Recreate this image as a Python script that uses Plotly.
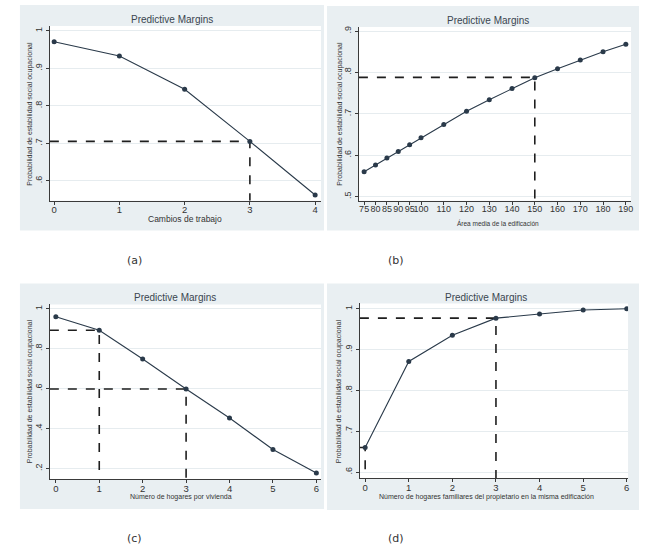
import plotly.graph_objects as go

W, H = 650, 552

# ---------------- data ----------------
a_x = [0, 1, 2, 3, 4]
a_y = [0.971, 0.933, 0.844, 0.705, 0.562]
a_ref_x = [3]
a_ref_y = [0.705]
a_yticks = [0.6, 0.7, 0.8, 0.9, 1.0]
a_ytext = [".6", ".7", ".8", ".9", "1"]
a_xtitle = "Cambios de trabajo"

b_x = [75, 80, 85, 90, 95, 100, 110, 120, 130, 140, 150, 160, 170, 180, 190]
b_y = [0.560, 0.576, 0.593, 0.609, 0.625, 0.642, 0.674, 0.706, 0.734, 0.761,
       0.787, 0.809, 0.830, 0.850, 0.868]
b_ref_x = [150]
b_ref_y = [0.788]
b_yticks = [0.5, 0.6, 0.7, 0.8, 0.9]
b_ytext = [".5", ".6", ".7", ".8", ".9"]
b_xtitle = "Área media de la edificación"

c_x = [0, 1, 2, 3, 4, 5, 6]
c_y = [0.960, 0.892, 0.748, 0.598, 0.453, 0.295, 0.178]
c_ref_x = [1, 3]
c_ref_y = [0.892, 0.598]
c_yticks = [0.2, 0.4, 0.6, 0.8, 1.0]
c_ytext = [".2", ".4", ".6", ".8", "1"]
c_xtitle = "Número de hogares por vivienda"

d_x = [0, 1, 2, 3, 4, 5, 6]
d_y = [0.660, 0.871, 0.935, 0.977, 0.987, 0.997, 1.000]
d_ref_x = [0, 3]
d_ref_y = [0.660, 0.977]
d_yticks = [0.6, 0.7, 0.8, 0.9, 1.0]
d_ytext = [".6", ".7", ".8", ".9", "1"]
d_xtitle = "Número de hogares familiares del propietario en la misma edificación"

title_text = "Predictive Margins"
ytitle_text = "Probabilidad de estabilidad social ocupacional"
captions = ["(a)", "(b)", "(c)", "(d)"]

# ---------------- layout geometry (pixels) ----------------
panels = [
    dict(x=a_x, y=a_y, rx=a_ref_x, ry=a_ref_y, yt=a_yticks, ytt=a_ytext, xt=a_xtitle,
         xr=[-0.066, 4.09], yr=[0.547, 1.013], plot=(50, 322, 25, 200),
         outer=(20, 325, 4, 230), title=(173, 19), xtitle=(186, 218, 8.5),
         ytitle=(30, 113), cap=(135, 260)),
    dict(x=b_x, y=b_y, rx=b_ref_x, ry=b_ref_y, yt=b_yticks, ytt=b_ytext, xt=b_xtitle,
         xr=[72.7, 192.3], yr=[0.490, 0.910], plot=(360, 633, 26, 200),
         outer=(328, 641, 5, 230), title=(490, 20), xtitle=(500, 222, 6.5),
         ytitle=(341, 113), cap=(397, 260)),
    dict(x=c_x, y=c_y, rx=c_ref_x, ry=c_ref_y, yt=c_yticks, ytt=c_ytext, xt=c_xtitle,
         xr=[-0.138, 6.107], yr=[0.147, 1.0215], plot=(50, 322, 304, 479),
         outer=(20, 325, 283, 509), title=(176, 297), xtitle=(182, 497, 7),
         ytitle=(30, 391), cap=(135, 538)),
    dict(x=d_x, y=d_y, rx=d_ref_x, ry=d_ref_y, yt=d_yticks, ytt=d_ytext, xt=d_xtitle,
         xr=[-0.121, 6.03], yr=[0.585, 1.013], plot=(361, 630, 303, 478),
         outer=(328, 641, 283, 510), title=(488, 297), xtitle=(488, 497, 7),
         ytitle=(340, 391), cap=(397, 538)),
]

def px(x):
    return x / W

def py(y):
    return 1 - y / H

LINE = "#2a3a4a"
AXIS = "#3a3a3a"
GRID = "#e6ecef"
BG = "#e9eff2"
FONT = "Liberation Sans"

fig = go.Figure()
shapes = []
annotations = []
layout_axes = {}

for i, p in enumerate(panels):
    n = "" if i == 0 else str(i + 1)
    xa, ya = "x" + n, "y" + n
    x0, x1, y0, y1 = p["plot"]
    ox0, ox1, oy0, oy1 = p["outer"]

    shapes.append(dict(type="rect", xref="paper", yref="paper", layer="below",
                       x0=px(ox0), x1=px(ox1), y0=py(oy1), y1=py(oy0),
                       fillcolor=BG, line=dict(width=0)))
    shapes.append(dict(type="rect", xref="paper", yref="paper", layer="below",
                       x0=px(x0), x1=px(x1), y0=py(y1), y1=py(y0),
                       fillcolor="white", line=dict(width=0)))

    # dashed reference lines
    for rx, ry in zip(p["rx"], p["ry"]):
        fig.add_trace(go.Scatter(x=[p["xr"][0], rx, rx], y=[ry, ry, p["yr"][0]],
                                 mode="lines", xaxis=xa, yaxis=ya, showlegend=False,
                                 line=dict(color="#1e1e1e", width=1.6, dash="dash"),
                                 hoverinfo="skip"))
    # main series
    fig.add_trace(go.Scatter(x=p["x"], y=p["y"], mode="lines+markers",
                             xaxis=xa, yaxis=ya, showlegend=False,
                             line=dict(color=LINE, width=1.1),
                             marker=dict(color=LINE, size=5)))

    layout_axes["xaxis" + n] = dict(
        domain=[px(x0), px(x1)], range=p["xr"], anchor=ya,
        tickmode="array", tickvals=p["x"], ticktext=[str(v) for v in p["x"]],
        tickangle=0, showgrid=False, zeroline=False,
        showline=True, linecolor=AXIS, linewidth=1,
        ticks="outside", ticklen=3, tickcolor=AXIS, tickwidth=1,
        ticklabelstandoff=-3,
        tickfont=dict(family=FONT, size=9.5 if i != 1 else 9, color="#333"),
    )
    layout_axes["yaxis" + n] = dict(
        domain=[py(y1), py(y0)], range=p["yr"], anchor=xa,
        tickmode="array", tickvals=p["yt"], ticktext=p["ytt"],
        tickangle=-90, showgrid=True, gridcolor=GRID, gridwidth=1, zeroline=False,
        showline=True, linecolor=AXIS, linewidth=1,
        ticks="outside", ticklen=3, tickcolor=AXIS, tickwidth=1,
        tickfont=dict(family=FONT, size=9, color="#333"),
    )

    annotations.append(dict(text=title_text, x=px(p["title"][0]), y=py(p["title"][1]),
                            xref="paper", yref="paper", showarrow=False,
                            xanchor="center", yanchor="middle",
                            font=dict(family=FONT, size=10, color="#3a4550")))
    annotations.append(dict(text=p["xt"], x=px(p["xtitle"][0]), y=py(p["xtitle"][1]),
                            xref="paper", yref="paper", showarrow=False,
                            xanchor="center", yanchor="middle",
                            font=dict(family=FONT, size=p["xtitle"][2], color="#333")))
    annotations.append(dict(text=ytitle_text, x=px(p["ytitle"][0]), y=py(p["ytitle"][1]),
                            xref="paper", yref="paper", showarrow=False, textangle=-90,
                            xanchor="center", yanchor="middle",
                            font=dict(family=FONT, size=7, color="#333")))
    annotations.append(dict(text=captions[i], x=px(p["cap"][0]), y=py(p["cap"][1]),
                            xref="paper", yref="paper", showarrow=False,
                            xanchor="center", yanchor="middle",
                            font=dict(family="DejaVu Sans, sans-serif", size=11, color="#333")))

fig.update_layout(
    width=W, height=H,
    margin=dict(l=0, r=0, t=0, b=0),
    paper_bgcolor="white", plot_bgcolor="white",
    shapes=shapes, annotations=annotations,
    showlegend=False,
    **layout_axes,
)

fig.write_html("out.html",
               config={"displayModeBar": False},
               post_script="document.body.style.margin='0';"
                           "document.body.style.overflow='hidden';")
